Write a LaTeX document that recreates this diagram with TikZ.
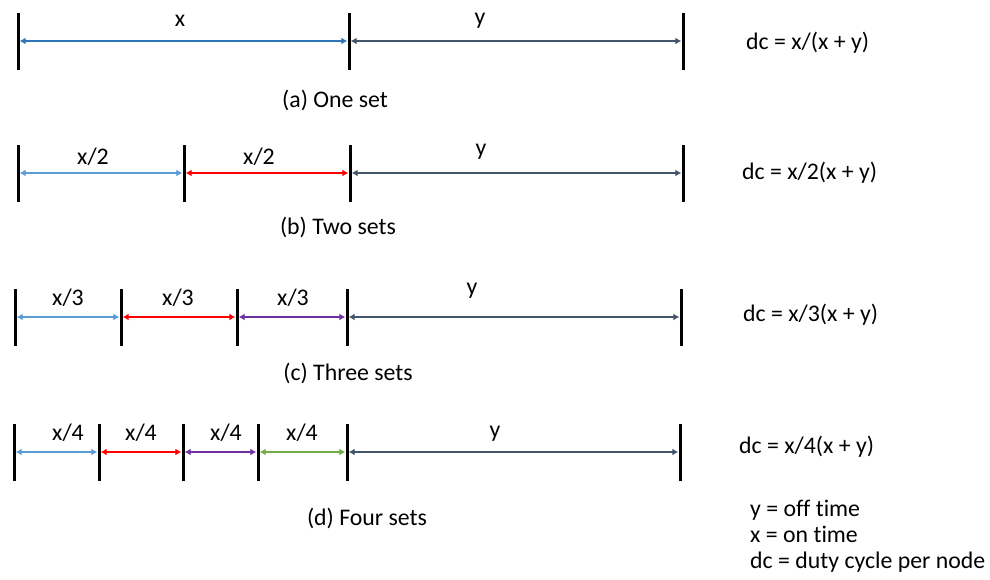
\documentclass[tikz,border=0pt]{standalone}
\usepackage{fontspec}
\setmainfont{Carlito}[Ligatures={NoCommon}]
\usepackage{tikz}
\usepackage{xcolor}
\usetikzlibrary{arrows.meta}
\definecolor{OnBlue}{HTML}{2E75B6}
\definecolor{OnLightBlue}{HTML}{5B9BD5}
\definecolor{OnRed}{HTML}{FF0000}
\definecolor{OnPurple}{HTML}{7030A0}
\definecolor{OnGreen}{HTML}{70AD47}
\definecolor{OffSlate}{HTML}{44546A}
\tikzset{
  dcbar/.style={fill=black, rectangle, minimum width=3pt, minimum height=57pt, inner sep=0pt},
  dcarrow/.style={{Latex[length=6pt,width=7pt]}-{Latex[length=6pt,width=7pt]}, line width=2.6pt},
  dctext/.style={inner sep=0pt, font=\fontsize{23.8}{26}\selectfont},
  dcnote/.style={dctext, anchor=west, align=left}
}

\begin{document}
\begin{tikzpicture}[x=1pt, y=-1pt]
  \useasboundingbox (0,0) rectangle (990,579);
  % (a) one set
  \node[dcbar] (a0) at (18,41) {};
  \node[dcbar] (a1) at (349,41) {};
  \node[dcbar] (a2) at (683,41) {};
  \draw[dcarrow, draw=OnBlue] (a0) -- (a1);
  \draw[dcarrow, draw=OffSlate] (a1) -- (a2);
  \node[dctext] (ax) at (180,21) {x};
  \node[dctext] (ay) at (480,21) {y};
  \node[dctext] (acap) at (335,100) {(a) One set};
  \node[dcnote] (adc) at (746,43) {dc = x/(x + y)};

  % (b) two sets
  \node[dcbar] (b0) at (18,173) {};
  \node[dcbar] (b1) at (184,173) {};
  \node[dcbar] (b2) at (350,173) {};
  \node[dcbar] (b3) at (683,173) {};
  \draw[dcarrow, draw=OnLightBlue] (b0) -- (b1);
  \draw[dcarrow, draw=OnRed] (b1) -- (b2);
  \draw[dcarrow, draw=OffSlate] (b2) -- (b3);
  \node[dctext] (bx1) at (93,157) {x/2};
  \node[dctext] (bx2) at (259,157) {x/2};
  \node[dctext] (by) at (481,152) {y};
  \node[dctext] (bcap) at (338,227) {(b) Two sets};
  \node[dcnote] (bdc) at (742,173) {dc = x/2(x + y)};

  % (c) three sets
  \node[dcbar] (c0) at (15,317) {};
  \node[dcbar] (c1) at (121,317) {};
  \node[dcbar] (c2) at (237,317) {};
  \node[dcbar] (c3) at (347,317) {};
  \node[dcbar] (c4) at (681,317) {};
  \draw[dcarrow, draw=OnLightBlue] (c0) -- (c1);
  \draw[dcarrow, draw=OnRed] (c1) -- (c2);
  \draw[dcarrow, draw=OnPurple] (c2) -- (c3);
  \draw[dcarrow, draw=OffSlate] (c3) -- (c4);
  \node[dctext] (cx1) at (68,298) {x/3};
  \node[dctext] (cx2) at (178,298) {x/3};
  \node[dctext] (cx3) at (293,298) {x/3};
  \node[dctext] (cy) at (472,291) {y};
  \node[dctext] (ccap) at (348,373) {(c) Three sets};
  \node[dcnote] (cdc) at (743,315) {dc = x/3(x + y)};

  % (d) four sets
  \node[dcbar] (d0) at (14,452) {};
  \node[dcbar] (d1) at (99,452) {};
  \node[dcbar] (d2) at (183,452) {};
  \node[dcbar] (d3) at (258,452) {};
  \node[dcbar] (d4) at (347,452) {};
  \node[dcbar] (d5) at (680,452) {};
  \draw[dcarrow, draw=OnLightBlue] (d0) -- (d1);
  \draw[dcarrow, draw=OnRed] (d1) -- (d2);
  \draw[dcarrow, draw=OnPurple] (d2) -- (d3);
  \draw[dcarrow, draw=OnGreen] (d3) -- (d4);
  \draw[dcarrow, draw=OffSlate] (d4) -- (d5);
  \node[dctext] (dx1) at (68,433) {x/4};
  \node[dctext] (dx2) at (141,433) {x/4};
  \node[dctext] (dx3) at (226,433) {x/4};
  \node[dctext] (dx4) at (302,433) {x/4};
  \node[dctext] (dy) at (495,434) {y};
  \node[dctext] (dcap) at (367,518) {(d) Four sets};
  \node[dcnote] (ddc) at (739,447) {dc = x/4(x + y)};

  % legend
  \node[dcnote] (legend) at (750,536) {y = off time\\ x = on time\\dc = duty cycle per node};
\end{tikzpicture}
\end{document}
